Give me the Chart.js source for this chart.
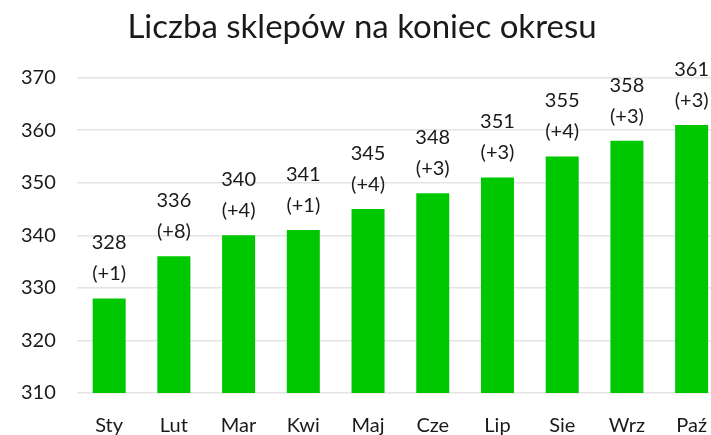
<!DOCTYPE html>
<html><head><meta charset="utf-8">
<script src="https://cdn.jsdelivr.net/npm/chart.js@4"></script>
<style>
html,body{margin:0;padding:0;background:#fff;overflow:hidden;width:711px;height:435px;}
#wrap{position:absolute;left:0;top:0;width:738px;height:459px;}
</style></head>
<body>
<div id="wrap"><canvas id="c" width="738" height="459"></canvas></div>
<script>
const title = "Liczba sklepów na koniec okresu";
const categories = ["Sty","Lut","Mar","Kwi","Maj","Cze","Lip","Sie","Wrz","Paź"];
const values = [328,336,340,341,345,348,351,355,358,361];
const deltas = ["+1","+8","+4","+1","+4","+3","+3","+4","+3","+3"];
const yTicks = [310,320,330,340,350,360,370];

const FONT = "Lato, 'Noto Sans', sans-serif";
const TEXT = "#1a1a1a";

const labelPlugin = {
  id: 'barLabels',
  afterDatasetsDraw(chart) {
    const ctx = chart.ctx;
    const meta = chart.getDatasetMeta(0);
    ctx.save();
    ctx.font = "20px " + FONT;
    ctx.fillStyle = TEXT;
    ctx.textAlign = "center";
    ctx.textBaseline = "alphabetic";
    meta.data.forEach((bar, i) => {
      const x = bar.x, y = bar.y;
      ctx.fillText("(" + deltas[i] + ")", x, y - 18);
      ctx.fillText(String(values[i]), x, y - 49);
    });
    ctx.restore();
  }
};

new Chart(document.getElementById('c'), {
  type: 'bar',
  data: {
    labels: categories,
    datasets: [{
      data: values,
      backgroundColor: '#00C800',
      borderWidth: 0,
      barPercentage: 0.51,
      categoryPercentage: 1.0
    }]
  },
  options: {
    responsive: false,
    animation: false,
    layout: { padding: { left: 0, right: 14, top: 8, bottom: 0 } },
    plugins: {
      legend: { display: false },
      tooltip: { enabled: false },
      title: {
        display: true,
        text: title,
        color: TEXT,
        font: { family: FONT, size: 33, weight: 'normal' },
        padding: { top: 0, bottom: 30 }
      }
    },
    scales: {
      x: {
        grid: { display: false, drawTicks: false },
        border: { display: false },
        ticks: { color: TEXT, font: { family: FONT, size: 20 }, padding: 21 }
      },
      y: {
        min: 310, max: 370,
        afterBuildTicks(axis) { axis.ticks = yTicks.map(v => ({ value: v })); },
        grid: { color: '#E4E4E4', lineWidth: 1.5, drawTicks: false },
        border: { display: false },
        ticks: { color: TEXT, font: { family: FONT, size: 20 }, padding: 21 }
      }
    }
  },
  plugins: [labelPlugin]
});
</script>
</body></html>
